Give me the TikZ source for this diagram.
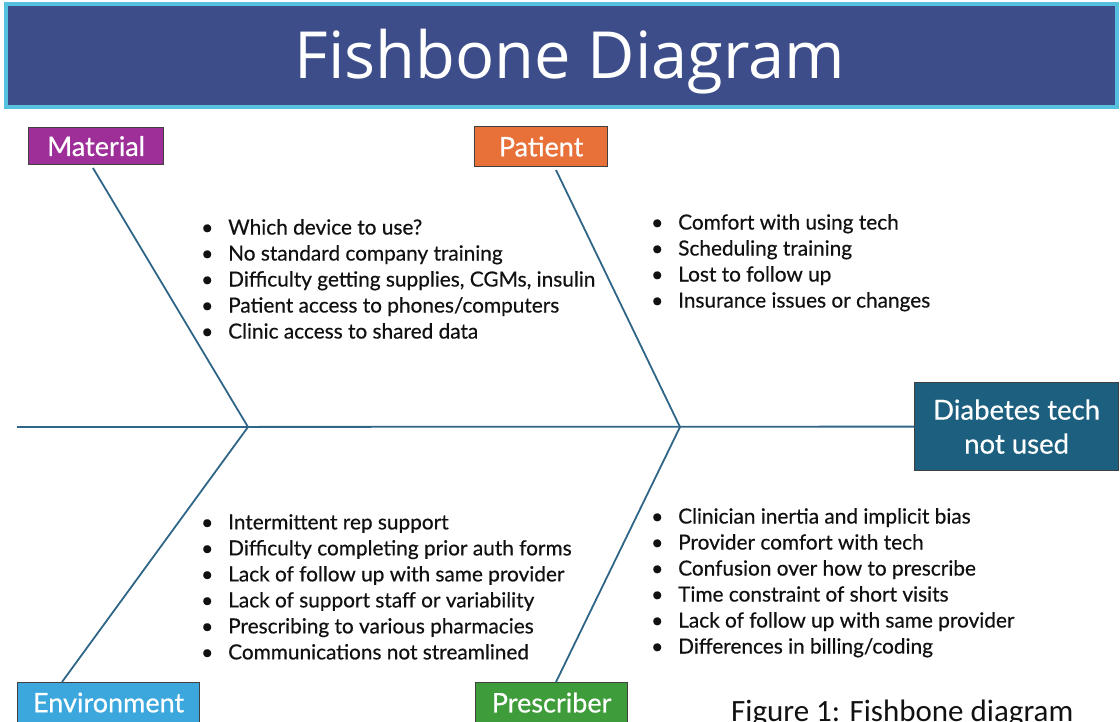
\documentclass[tikz,border=0pt]{standalone}
\usepackage{fontspec}
\setmainfont{Lato}
\newfontfamily\bodyfont{Lato}[FakeBold=0.5]
\newfontfamily\titlefont{Open Sans}
\newfontfamily\capfont{Carlito}
\definecolor{titlefill}{HTML}{3D4D8A}
\definecolor{titleedge}{HTML}{56C1DE}
\definecolor{matcol}{HTML}{9E2F99}
\definecolor{patcol}{HTML}{E8713A}
\definecolor{effcol}{HTML}{1C5F7F}
\definecolor{envcol}{HTML}{3BA7DD}
\definecolor{precol}{HTML}{3F9C3A}
\definecolor{bonecol}{HTML}{2F6688}
\definecolor{txtcol}{HTML}{111111}
\tikzset{
  catbox/.style={draw=black!75, line width=1.2pt, text=white, inner sep=0pt,
     font=\bodyfont\fontsize{27}{30}\selectfont, anchor=north west},
  bone/.style={draw=bonecol, line width=1.8pt},
  causelist/.style={align=left, inner sep=0pt, anchor=north west, text=txtcol,
     font=\bodyfont\fontsize{20.8}{26}\selectfont},
}
\newcommand{\bul}[1]{\makebox[27pt][l]{\textbullet}#1}
\begin{document}
\begin{tikzpicture}[x=1pt,y=-1pt]
\useasboundingbox (0,0) rectangle (1120,721);
\clip (0,0) rectangle (1120,721);
% title bar
\node[draw=titleedge, line width=4pt, fill=titlefill, minimum width=1111pt, minimum height=103pt, anchor=north west, inner sep=0pt] (title) at (4,2) {};
\node[text=white, font=\titlefont\fontsize{65}{70}\selectfont] (titletext) at (570,62) {Fishbone Diagram};
% category boxes
\node[catbox, fill=matcol, minimum width=135pt, minimum height=37pt] (mat) at (28,127) {Material};
\node[catbox, fill=patcol, minimum width=133pt, minimum height=40pt] (pat) at (474,126) {Patient};
\node[catbox, fill=envcol, minimum width=182pt, minimum height=40pt] (env) at (17,682) {Environment};
\node[catbox, fill=precol, minimum width=152pt, minimum height=40pt] (pre) at (475,682) {Prescriber};
\node[catbox, fill=effcol, minimum width=204pt, minimum height=88pt, align=center,
  font=\bodyfont\fontsize{27.5}{34}\selectfont] (eff) at (914,382) {Diabetes tech\\not used};
% spine and bones
\coordinate (tail) at (17,427);
\coordinate (j1) at (248,427);
\coordinate (j2) at (680,427);
\coordinate (m0) at (93,168);
\coordinate (p0) at (556,170);
\coordinate (e0) at (62,682);
\coordinate (r0) at (556,682);
\draw[bone] (tail) -- (eff.west);
\draw[bone] (m0) -- (j1) -- (e0);
\draw[bone] (p0) -- (j2) -- (r0);
% cause lists
\node[causelist] (matlist) at (201,219) {\bul{Which device to use?}\\\bul{No standard company training}\\\bul{Difficulty getting supplies, CGMs, insulin}\\\bul{Patient access to phones/computers}\\\bul{Clinic access to shared data}};
\node[causelist] (patlist) at (651,214) {\bul{Comfort with using tech}\\\bul{Scheduling training}\\\bul{Lost to follow up}\\\bul{Insurance issues or changes}};
\node[causelist] (envlist) at (201,514) {\bul{Intermittent rep support}\\\bul{Difficulty completing prior auth forms}\\\bul{Lack of follow up with same provider}\\\bul{Lack of support staff or variability}\\\bul{Prescribing to various pharmacies}\\\bul{Communications not streamlined}};
\node[causelist] (prelist) at (651,508) {\bul{Clinician inertia and implicit bias}\\\bul{Provider comfort with tech}\\\bul{Confusion over how to prescribe}\\\bul{Time constraint of short visits}\\\bul{Lack of follow up with same provider}\\\bul{Differences in billing/coding}};
% caption
\node[anchor=north west, inner sep=0pt, text=txtcol, font=\capfont\fontsize{31}{34}\selectfont] (caption) at (731,700) {Figure 1: Fishbone diagram};
\end{tikzpicture}
\end{document}
